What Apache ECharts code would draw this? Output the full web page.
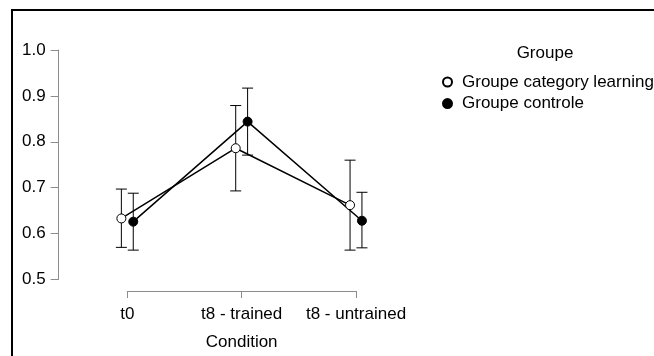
<!DOCTYPE html>
<html>
<head>
<meta charset="utf-8">
<script src="https://cdn.jsdelivr.net/npm/echarts@6/dist/echarts.min.js"></script>
<style>html,body{margin:0;padding:0;background:#fff;}#c{width:654px;height:356px;}</style>
</head>
<body>
<div id="c"></div>
<script>
var categories = ['t0', 't8 - trained', 't8 - untrained'];
var groupNames = ['Groupe category learning', 'Groupe controle'];
var learnMean = [0.633, 0.786, 0.662];
var learnLow  = [0.570, 0.693, 0.564];
var learnHigh = [0.697, 0.879, 0.760];
var ctrlMean  = [0.626, 0.844, 0.628];
var ctrlLow   = [0.564, 0.771, 0.569];
var ctrlHigh  = [0.688, 0.917, 0.690];
var yTicks = [0.5, 0.6, 0.7, 0.8, 0.9, 1.0];

var FONT = 'Liberation Sans';
var FS = 17;
var dodge = 0.052;

function pts(mean, off) { return mean.map(function (v, i) { return [i + off, v]; }); }
function errs(low, high, off) { return low.map(function (v, i) { return [i + off, v, high[i]]; }); }

function errRender(params, api) {
  var x = api.value(0);
  var lo = api.coord([x, api.value(1)]);
  var hi = api.coord([x, api.value(2)]);
  var w = 5.5;
  var st = { stroke: '#000', lineWidth: 1, fill: null };
  return {
    type: 'group',
    children: [
      { type: 'line', shape: { x1: lo[0], y1: lo[1], x2: hi[0], y2: hi[1] }, style: st },
      { type: 'line', shape: { x1: lo[0] - w, y1: lo[1], x2: lo[0] + w, y2: lo[1] }, style: st },
      { type: 'line', shape: { x1: hi[0] - w, y1: hi[1], x2: hi[0] + w, y2: hi[1] }, style: st }
    ]
  };
}

var chart = echarts.init(document.getElementById('c'));
var axisGray = '#8c8c8c';
chart.setOption({
  animation: false,
  textStyle: { fontFamily: FONT },
  grid: [
    { left: 58.7, top: 50, width: 365.9, height: 229.5 },
    { left: 127.3, top: 50, width: 228.7, height: 229.5 }
  ],
  xAxis: [
    { type: 'value', gridIndex: 0, min: -0.6, max: 2.6, show: false },
    {
      type: 'category', gridIndex: 1, data: categories, boundaryGap: false,
      offset: 11.5,
      axisLine: { lineStyle: { color: axisGray, width: 1 } },
      axisTick: { length: 7, interval: 0, lineStyle: { color: axisGray } },
      axisLabel: { color: '#000', fontSize: FS, fontFamily: FONT, margin: 14.5, interval: 0, hideOverlap: false },
      splitLine: { show: false },
      name: 'Condition', nameLocation: 'middle', nameGap: 43,
      nameTextStyle: { color: '#000', fontSize: FS, fontFamily: FONT }
    }
  ],
  yAxis: [
    {
      type: 'value', gridIndex: 0, min: 0.5, max: 1.0, interval: 0.1,
      axisLine: { show: true, onZero: false, lineStyle: { color: axisGray, width: 1 } },
      axisTick: { show: true, length: 8, lineStyle: { color: axisGray } },
      axisLabel: { color: '#000', fontSize: FS, fontFamily: FONT, margin: 13,
        formatter: function (v) { return v.toFixed(1); } },
      splitLine: { show: false }
    },
    { type: 'value', gridIndex: 1, min: 0.5, max: 1.0, show: false }
  ],
  legend: {
    orient: 'vertical', left: 442, top: 73.5, padding: 0,
    itemWidth: 9, itemHeight: 9, itemGap: 4.6,
    icon: 'circle',
    textStyle: { color: '#000', fontSize: FS, fontFamily: FONT, lineHeight: 17, padding: [0, 0, 0, 5] },
    data: groupNames
  },
  graphic: [
    { type: 'rect', shape: { x: 12, y: 10, width: 700, height: 420 },
      style: { stroke: '#000', lineWidth: 2, fill: null }, silent: true },
    { type: 'text', x: 545, y: 53,
      style: { text: 'Groupe', fill: '#000', font: FS + 'px ' + FONT, textAlign: 'center', textVerticalAlign: 'middle' } }
  ],
  series: [
    { type: 'custom', name: 'err1', xAxisIndex: 0, yAxisIndex: 0, renderItem: errRender,
      data: errs(learnLow, learnHigh, -dodge), z: 1, silent: true },
    { type: 'custom', name: 'err2', xAxisIndex: 0, yAxisIndex: 0, renderItem: errRender,
      data: errs(ctrlLow, ctrlHigh, dodge), z: 1, silent: true },
    { type: 'line', name: groupNames[0], xAxisIndex: 0, yAxisIndex: 0,
      data: pts(learnMean, -dodge), symbol: 'circle', symbolSize: 9,
      lineStyle: { color: '#000', width: 1.5 },
      itemStyle: { color: '#fff', borderColor: '#000', borderWidth: 1 }, z: 3 },
    { type: 'line', name: groupNames[1], xAxisIndex: 0, yAxisIndex: 0,
      data: pts(ctrlMean, dodge), symbol: 'circle', symbolSize: 9,
      lineStyle: { color: '#000', width: 1.5 },
      itemStyle: { color: '#000', borderColor: '#000', borderWidth: 1 }, z: 3 }
  ]
});
</script>
</body>
</html>
